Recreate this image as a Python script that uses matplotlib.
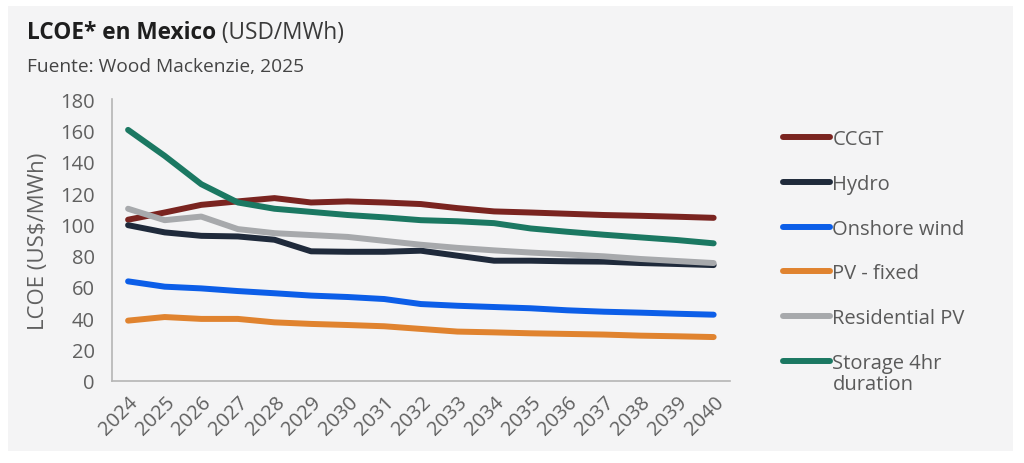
import matplotlib.pyplot as plt
from matplotlib.patches import Rectangle

plt.rcParams['font.family'] = ['Open Sans', 'DejaVu Sans']

years = [str(y) for y in range(2024, 2041)]

ccgt = [103, 107.6, 112.5, 114.7, 116.8, 114, 114.7, 114, 113, 110.4, 108.3, 107.6, 106.8, 106, 105.5, 104.9, 104.2]
hydro = [99.5, 94.9, 92.7, 92.3, 90.2, 82.8, 82.5, 82.5, 83.2, 80, 76.8, 76.8, 76.4, 76.2, 75.3, 74.7, 74]
onshore = [63.6, 60.2, 59.1, 57.4, 56, 54.5, 53.6, 52.3, 49.1, 48, 47.2, 46.4, 45.1, 44.2, 43.6, 42.9, 42.3]
pv_fixed = [38.5, 40.8, 39.6, 39.6, 37.4, 36.4, 35.7, 34.9, 33.2, 31.5, 31, 30.4, 30, 29.6, 28.9, 28.5, 28]
resid_pv = [110, 102.7, 105, 97, 94.4, 93.2, 92, 89.5, 87, 85, 83.4, 82, 80.8, 79.6, 77.9, 76.6, 75.3]
storage = [160.4, 143.8, 125.7, 114, 110, 108, 106, 104.5, 102.7, 102, 100.8, 97.4, 95.3, 93.4, 91.7, 90, 87.9]

series = [
    ('CCGT', ccgt, '#7a2420'),
    ('Hydro', hydro, '#1f2a3b'),
    ('Onshore wind', onshore, '#0c5ee8'),
    ('PV - fixed', pv_fixed, '#e0832f'),
    ('Residential PV', resid_pv, '#a7a9ac'),
    ('Storage 4hr', storage, '#1b7862'),
]

fig = plt.figure(figsize=(10.24, 4.64), dpi=100, facecolor='white')
fig.patches.append(Rectangle((8 / 1024, 1 - 452 / 464), 1005 / 1024, 445 / 464,
                             transform=fig.transFigure, facecolor='#f4f4f5',
                             edgecolor='none', zorder=-10))

ax = fig.add_axes([0.109, 0.177, 0.604, 0.607])
ax.set_facecolor('none')

x = list(range(len(years)))
for name, vals, col in series:
    ax.plot(x, vals, color=col, lw=4.3, label=name, solid_capstyle='round')

ax.set_xlim(-0.45, 16.45)
ax.set_ylim(0, 180)
ax.set_yticks(range(0, 181, 20))
ax.set_xticks(x)
ax.set_xticklabels(years, rotation=45, ha='right', rotation_mode='anchor')
ax.tick_params(axis='both', length=0, labelsize=14.5, labelcolor='#606060')
ax.tick_params(axis='y', pad=12)
ax.tick_params(axis='x', pad=8)
for s in ['top', 'right']:
    ax.spines[s].set_visible(False)
for s in ['left', 'bottom']:
    ax.spines[s].set_color('#b5b5b5')
    ax.spines[s].set_linewidth(1.2)
ax.set_ylabel('LCOE (US$/MWh)', fontsize=16, color='#606060', labelpad=8)

leg = ax.legend(loc='upper left', bbox_to_anchor=(765 / 1024, 1 - 112 / 464),
                bbox_transform=fig.transFigure, frameon=False, fontsize=14.5,
                handlelength=2.35, handletextpad=0.1, labelspacing=1.23)
for t in leg.get_texts():
    t.set_color('#5a5a5a')
last = leg.get_texts()[-1]
ax.annotate('duration', xy=(0, 0), xycoords=last, xytext=(0, -0.5),
            textcoords='offset points', va='top', ha='left',
            fontsize=14.5, color='#5a5a5a', annotation_clip=False, zorder=10)

t1 = fig.text(27 / 1024, 1 - 39 / 464, 'LCOE* en Mexico', fontsize=16.3,
              fontweight='bold', color='#1e1e1e', va='baseline')
ax.annotate(' (USD/MWh)', xy=(1, 0), xycoords=t1, va='bottom', fontsize=16.3,
            color='#3a3a3a')
fig.text(27 / 1024, 1 - 72 / 464, 'Fuente: Wood Mackenzie, 2025', fontsize=13.8,
         color='#444444', va='baseline')

fig.savefig('out.png', dpi=100, facecolor='white')
